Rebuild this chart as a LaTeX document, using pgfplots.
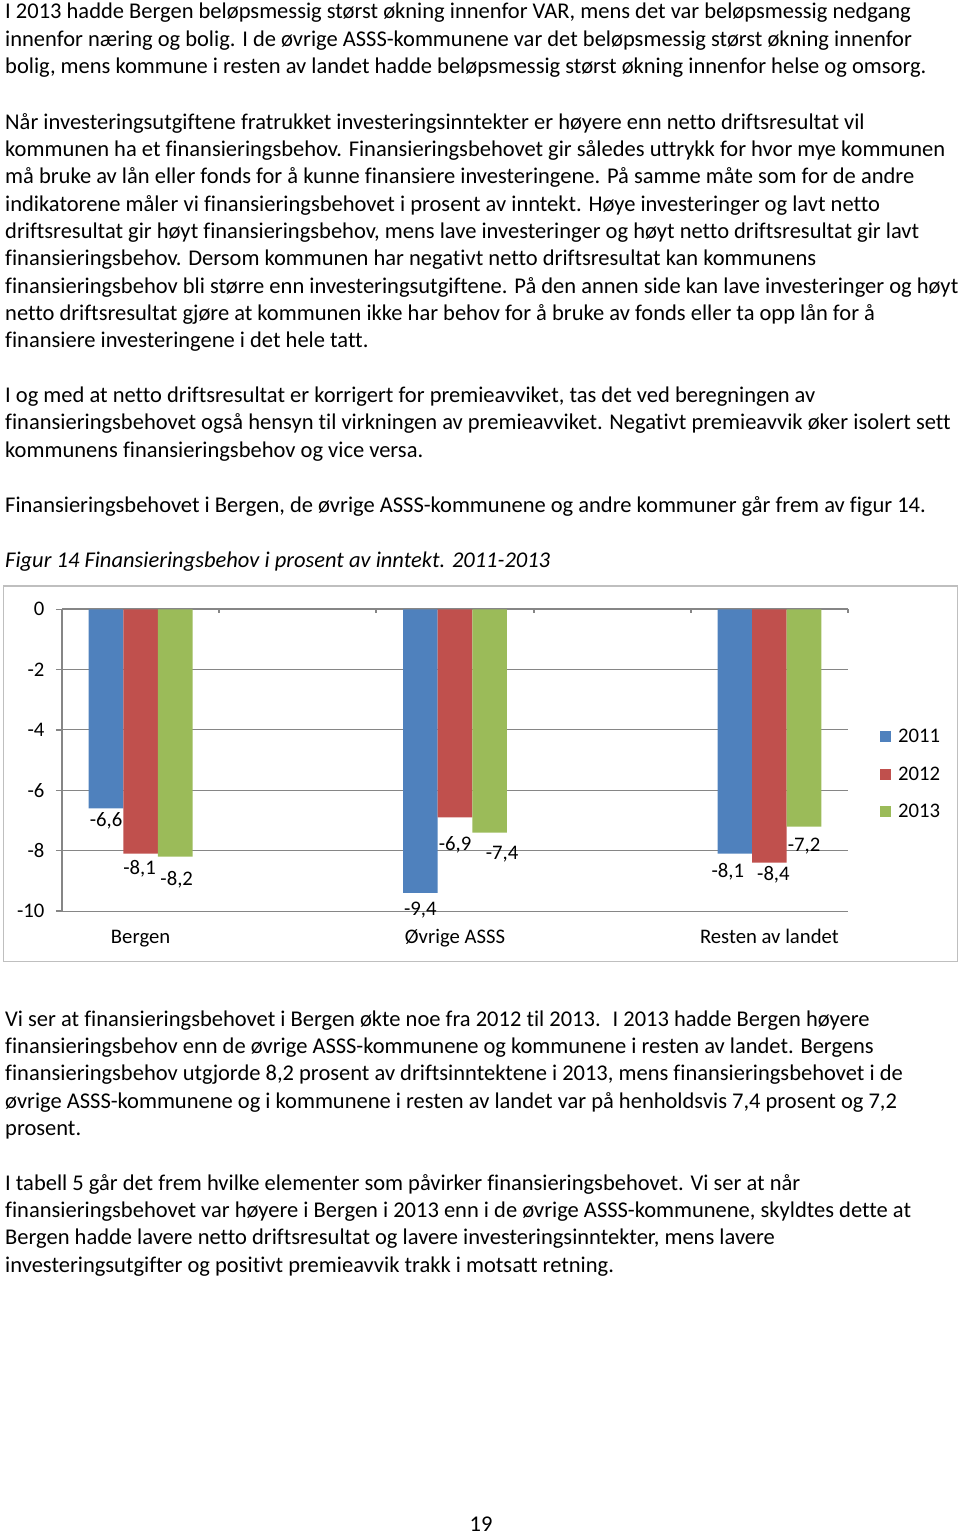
\documentclass[border=0pt]{standalone}
\usepackage{fontspec}
\setmainfont{Carlito}[Ligatures=NoCommon]
\usepackage{pgfplots}
\pgfplotsset{compat=1.18}
\usepackage{pgfplotstable}

\definecolor{xlblue}{HTML}{4F81BD}
\definecolor{xlred}{HTML}{C0504D}
\definecolor{xlgreen}{HTML}{9BBB59}
\definecolor{gridgray}{HTML}{868686}
\definecolor{framegray}{HTML}{BFBFBF}

\newcommand\fs{\fontsize{22.5pt}{27pt}\selectfont}
\newcommand\cs{\fontsize{20.7pt}{25pt}\selectfont}
\newcommand\Line[2]{\node[anchor=base west, inner sep=0pt, font=\fs] at (5pt,-#1pt) {#2};}

% x = category index, y = value, lab = label, dx/dy = label offset (px)
\pgfplotstableread{
x y lab dx dy
0 -6.6 -6,6 0 12
1 -9.4 -9,4 0 17
2 -8.1 -8,1 -7 18
}\dataA
\pgfplotstableread{
x y lab dx dy
0 -8.1 -8,1 -1 15
1 -6.9 -6,9 0 27
2 -8.4 -8,4 4 12
}\dataB
\pgfplotstableread{
x y lab dx dy
0 -8.2 -8,2 1.5 23
1 -7.4 -7,4 12.5 22
2 -7.2 -7,2 0 20
}\dataC

\pgfplotsset{
  lbl/.style={
    nodes near coords, point meta=explicit symbolic,
    visualization depends on={\thisrow{dx}\as\ldx},
    visualization depends on={\thisrow{dy}\as\ldy},
    every node near coord/.append style={anchor=center, inner sep=0pt,
      xshift=\ldx pt, yshift=-\ldy pt, font=\cs, text=black},
  }
}

\begin{document}
\begin{tikzpicture}
\path[use as bounding box] (0pt,0pt) rectangle (960pt,-1536pt);

\Line{19}{I 2013 hadde Bergen beløpsmessig størst økning innenfor VAR, mens det var beløpsmessig nedgang}
\Line{46.3}{innenfor næring og bolig. I de øvrige ASSS-kommunene var det beløpsmessig størst økning innenfor}
\Line{73.6}{bolig, mens kommune i resten av landet hadde beløpsmessig størst økning innenfor helse og omsorg.}

\Line{129}{Når investeringsutgiftene fratrukket investeringsinntekter er høyere enn netto driftsresultat vil}
\Line{156.3}{kommunen ha et finansieringsbehov. Finansieringsbehovet gir således uttrykk for hvor mye kommunen}
\Line{183.7}{må bruke av lån eller fonds for å kunne finansiere investeringene. På samme måte som for de andre}
\Line{211}{indikatorene måler vi finansieringsbehovet i prosent av inntekt. Høye investeringer og lavt netto}
\Line{238.4}{driftsresultat gir høyt finansieringsbehov, mens lave investeringer og høyt netto driftsresultat gir lavt}
\Line{265.8}{finansieringsbehov. Dersom kommunen har negativt netto driftsresultat kan kommunens}
\Line{293.1}{finansieringsbehov bli større enn investeringsutgiftene. På den annen side kan lave investeringer og høyt}
\Line{320.5}{netto driftsresultat gjøre at kommunen ikke har behov for å bruke av fonds eller ta opp lån for å}
\Line{347.8}{finansiere investeringene i det hele tatt.}

\Line{402.5}{I og med at netto driftsresultat er korrigert for premieavviket, tas det ved beregningen av}
\Line{429.8}{finansieringsbehovet også hensyn til virkningen av premieavviket. Negativt premieavvik øker isolert sett}
\Line{457.2}{kommunens finansieringsbehov og vice versa.}

\Line{512}{Finansieringsbehovet i Bergen, de øvrige ASSS-kommunene og andre kommuner går frem av figur 14.}

\Line{567}{\itshape Figur 14 Finansieringsbehov i prosent av inntekt. 2011-2013}

\Line{1026}{Vi ser at finansieringsbehovet i Bergen økte noe fra 2012 til 2013. \ I 2013 hadde Bergen høyere}
\Line{1053.3}{finansieringsbehov enn de øvrige ASSS-kommunene og kommunene i resten av landet. Bergens}
\Line{1080.7}{finansieringsbehov utgjorde 8,2 prosent av driftsinntektene i 2013, mens finansieringsbehovet i de}
\Line{1108}{øvrige ASSS-kommunene og i kommunene i resten av landet var på henholdsvis 7,4 prosent og 7,2}
\Line{1135.4}{prosent.}

\Line{1190}{I tabell 5 går det frem hvilke elementer som påvirker finansieringsbehovet. Vi ser at når}
\Line{1217.3}{finansieringsbehovet var høyere i Bergen i 2013 enn i de øvrige ASSS-kommunene, skyldtes dette at}
\Line{1244.7}{Bergen hadde lavere netto driftsresultat og lavere investeringsinntekter, mens lavere}
\Line{1272}{investeringsutgifter og positivt premieavvik trakk i motsatt retning.}

\node[anchor=base, inner sep=0pt, font=\fs] at (481pt,-1531pt) {19};

\draw[framegray, line width=1.5pt] (3.5pt,-586pt) rectangle (957.5pt,-961.5pt);

\begin{axis}[
  at={(62pt,-911pt)}, anchor=south west,
  scale only axis, width=786pt, height=301.7pt,
  xmin=-0.25, xmax=2.25, ymin=-10, ymax=0,
  ybar=0pt, bar width=34.6pt,
  separate axis lines,
  axis x line*=top, axis y line*=left,
  xtick={0,1,2}, xticklabels={Bergen,Øvrige ASSS,Resten av landet},
  xticklabel style={anchor=base, yshift=-340pt},
  minor xtick={-0.25,0.25,0.75,1.25,1.75,2.25},
  ytick={-10,-8,-6,-4,-2,0}, yticklabels={-10,-8,-6,-4,-2,0},
  yticklabel style={xshift=-8pt},
  ymajorgrids, major grid style={gridgray, line width=1pt},
  axis line style={gridgray, line width=2pt},
  tick align=outside,
  major x tick style={draw=none},
  minor x tick style={gridgray, line width=2pt, yshift=-4pt},
  minor tick length=4pt,
  major y tick style={gridgray, line width=1.5pt},
  major tick length=6pt,
  ticklabel style={font=\cs, text=black},
  legend style={at={(1.0407,0.454)}, anchor=west, draw=none, fill=none,
    font=\cs, inner sep=0pt, row sep=18.5pt, column sep=5pt},
  legend cell align=left,
  legend image code/.code={\fill[#1] (0pt,-5.5pt) rectangle (11pt,5.5pt);},
]
\addplot[fill=xlblue, draw=none, lbl] table[x=x, y=y, meta=lab] {\dataA};
\addplot[fill=xlred, draw=none, lbl] table[x=x, y=y, meta=lab] {\dataB};
\addplot[fill=xlgreen, draw=none, lbl] table[x=x, y=y, meta=lab] {\dataC};
\legend{2011,2012,2013}
\end{axis}
\end{tikzpicture}
\end{document}
